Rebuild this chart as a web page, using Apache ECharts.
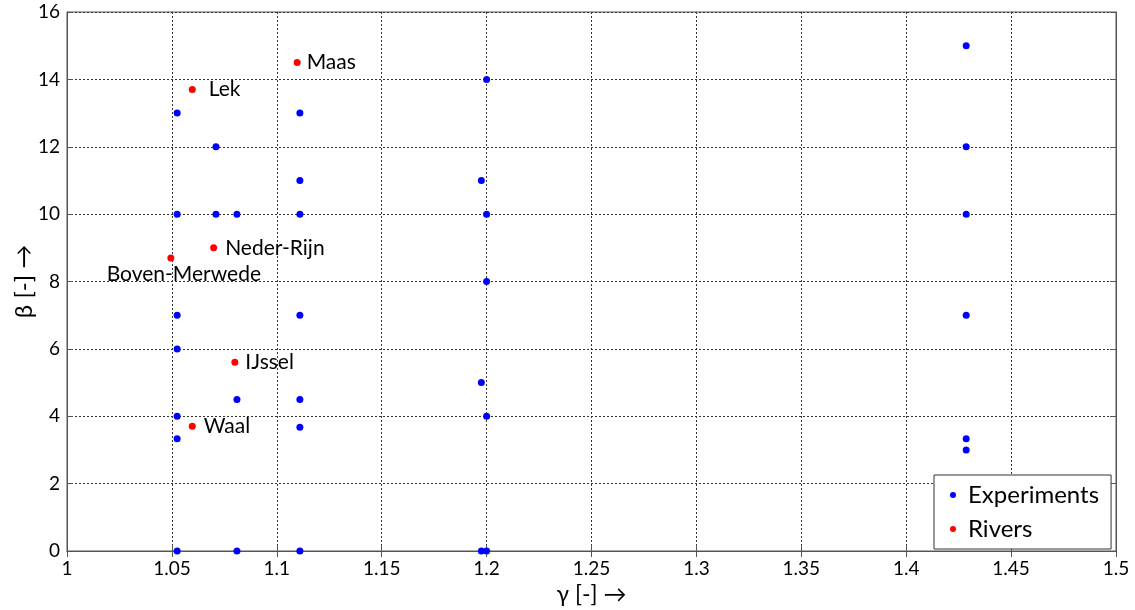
<!DOCTYPE html>
<html>
<head>
<meta charset="utf-8">
<script src="https://cdn.jsdelivr.net/npm/echarts@6/dist/echarts.min.js"></script>
<style>html,body{margin:0;padding:0;background:#fff}#c{width:1135px;height:610px}</style>
</head>
<body>
<div id="c"></div>
<script>
// Experiments
const expGamma = [1.0525,1.0525,1.0525,1.0525,1.0525,1.0525,1.0525,
  1.071,1.071,
  1.081,1.081,1.081,
  1.111,1.111,1.111,1.111,1.111,1.111,1.111,
  1.2,1.2,1.2,1.2,1.2,
  1.1975,1.1975,1.1975,
  1.4286,1.4286,1.4286,1.4286,1.4286,1.4286];
const expBeta = [13,10,7,6,4,3.33,0,
  12,10,
  10,4.5,0,
  13,11,10,7,4.5,3.67,0,
  14,10,8,4,0,
  11,5,0,
  15,12,10,7,3.33,3];
// Rivers
const riverNames = ['Maas','Lek','Neder-Rijn','Boven-Merwede','IJssel','Waal'];
const riverGamma = [1.1097,1.0597,1.0699,1.0495,1.080,1.0597];
const riverBeta = [14.5,13.7,9.0,8.7,5.6,3.7];
// Ticks
const xTicks = ['1','1.05','1.1','1.15','1.2','1.25','1.3','1.35','1.4','1.45','1.5'];
const yTicks = ['0','2','4','6','8','10','12','14','16'];

const FONT = 'Lato';
const labelCfg = {
  'Maas': {position:'right', distance:6},
  'Lek': {position:'right', distance:13},
  'Neder-Rijn': {position:'right', distance:8},
  'Boven-Merwede': {position:'bottom', distance:2, offset:[13,0]},
  'IJssel': {position:'right', distance:7},
  'Waal': {position:'right', distance:8}
};

const expData = expGamma.map((g,i)=>[g,expBeta[i]]);
const riverData = riverNames.map((n,i)=>({
  name:n, value:[riverGamma[i],riverBeta[i]],
  label:Object.assign({show:true}, labelCfg[n])
}));

const chart = echarts.init(document.getElementById('c'));
const gridLine = {show:true, lineStyle:{color:'#333', type:[2,2], width:1}};
chart.setOption({
  animation:false,
  grid:{left:67, right:19, top:12, bottom:59, show:true, borderColor:'#555', borderWidth:1,
    containLabel:false, outerBoundsMode:'none'},
  xAxis:[{
    type:'value', min:1, max:1.5, interval:0.05,
    name:'γ [-] →', nameLocation:'middle', nameGap:31,
    nameTextStyle:{fontFamily:FONT, fontSize:23, color:'#000'},
    axisLine:{show:true, onZero:false, lineStyle:{color:'#555'}},
    axisTick:{show:true, inside:true, length:6, lineStyle:{color:'#555'}},
    axisLabel:{fontFamily:FONT, fontSize:19, color:'#000', margin:8,
      formatter:(v)=>{const i=Math.round((v-1)/0.05); return xTicks[i]!==undefined?xTicks[i]:'';}},
    splitLine:gridLine
  },{
    type:'value', min:1, max:1.5, interval:0.05, position:'top',
    axisLine:{show:true, lineStyle:{color:'#555'}},
    axisTick:{show:true, inside:true, length:6, lineStyle:{color:'#555'}},
    axisLabel:{show:false}, splitLine:{show:false}
  }],
  yAxis:[{
    type:'value', min:0, max:16, interval:2,
    name:'β [-] →', nameLocation:'middle', nameGap:31, nameRotate:90, nameMoveOverlap:false,
    nameTextStyle:{fontFamily:FONT, fontSize:24, color:'#000'},
    axisLine:{show:true, onZero:false, lineStyle:{color:'#555'}},
    axisTick:{show:true, inside:true, length:6, lineStyle:{color:'#555'}},
    axisLabel:{fontFamily:FONT, fontSize:19, color:'#000', margin:7,
      formatter:(v)=>{const i=Math.round(v/2); return yTicks[i]!==undefined?yTicks[i]:'';}},
    splitLine:gridLine
  },{
    type:'value', min:0, max:16, interval:2, position:'right',
    axisLine:{show:true, lineStyle:{color:'#555'}},
    axisTick:{show:true, inside:true, length:6, lineStyle:{color:'#555'}},
    axisLabel:{show:false}, splitLine:{show:false}
  }],
  legend:{
    left:934, top:475, orient:'vertical', backgroundColor:'#fff',
    borderColor:'#333', borderWidth:1, padding:[8,12,8,16], itemGap:10,
    itemWidth:6, itemHeight:6,
    textStyle:{fontFamily:FONT, fontSize:24, color:'#000', padding:[0,0,0,7]},
    data:[{name:'Experiments', icon:'circle'},{name:'Rivers', icon:'circle'}]
  },
  series:[{
    name:'Experiments', type:'scatter', symbolSize:7, data:expData,
    itemStyle:{color:'#0000ff', opacity:1}, z:3
  },{
    name:'Rivers', type:'scatter', symbolSize:7, data:riverData,
    itemStyle:{color:'#ff0000', opacity:1}, z:4,
    label:{show:true, formatter:'{b}', fontFamily:FONT, fontSize:21, color:'#000'}
  }]
});
</script>
</body>
</html>
